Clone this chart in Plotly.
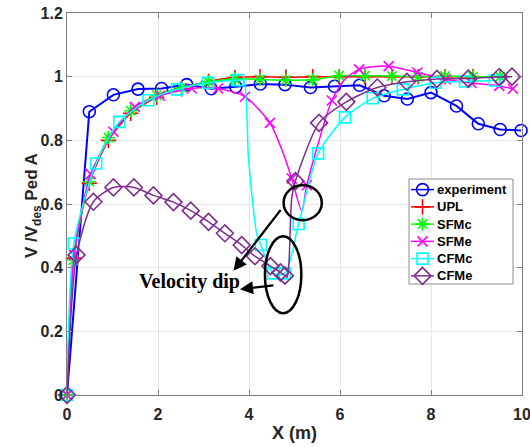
import plotly.graph_objects as go

# ---------------- data ----------------
exp_x = [0, 0.49, 1.02, 1.56, 2.08, 2.63, 3.17, 3.71, 4.25, 4.79, 5.35, 5.88, 6.43, 6.97, 7.48, 8.00, 8.56, 9.04, 9.52, 9.98]
exp_y = [0, 0.890, 0.943, 0.961, 0.963, 0.975, 0.962, 0.968, 0.977, 0.975, 0.966, 0.970, 0.973, 0.940, 0.930, 0.950, 0.908, 0.852, 0.834, 0.831]

upl_x = [0, 0.14, 0.49, 0.91, 1.40, 1.97, 2.52, 3.11, 3.69, 4.24, 4.81, 5.40, 5.98, 6.55, 7.14, 7.72, 8.31, 8.92, 9.52]
upl_y = [0, 0.430, 0.665, 0.800, 0.885, 0.935, 0.962, 0.985, 0.997, 1.000, 0.998, 1.000, 1.000, 1.000, 1.000, 1.000, 1.000, 1.000, 1.000]

sfmc_x = [0, 0.14, 0.49, 0.91, 1.40, 1.97, 2.52, 3.11, 3.69, 4.24, 4.81, 5.40, 5.98, 6.55, 7.14, 7.72, 8.31, 8.92, 9.52]
sfmc_y = [0, 0.424, 0.670, 0.809, 0.893, 0.942, 0.966, 0.984, 0.993, 0.991, 0.989, 0.990, 1.003, 1.003, 1.002, 1.000, 1.002, 1.000, 1.000]

sfme_x = [0, 0.16, 0.52, 1.02, 1.49, 2.04, 2.74, 3.32, 3.91, 4.46, 4.94, 5.27, 5.82, 6.42, 7.07, 7.70, 8.32, 8.89, 9.50, 9.80]
sfme_y = [0, 0.440, 0.694, 0.827, 0.905, 0.940, 0.963, 0.963, 0.937, 0.855, 0.680, 0.659, 0.925, 1.023, 1.033, 1.013, 0.992, 0.980, 0.971, 0.962]
sfme_curve_x = [4.75, 5.16, 5.50, 6.10]
sfme_curve_y = [0.760, 0.578, 0.780, 0.990]

cfmc_x = [0, 0.15, 0.64, 1.15, 1.79, 2.42, 3.10, 3.76, 4.26, 4.53, 4.79, 5.09, 5.52, 6.11, 6.72, 7.38, 8.10, 8.75, 9.40]
cfmc_y = [0, 0.476, 0.727, 0.858, 0.926, 0.960, 0.981, 0.989, 0.471, 0.382, 0.382, 0.537, 0.759, 0.872, 0.932, 0.960, 0.981, 0.985, 0.988]
cfmc_curve_x = [3.88, 3.99, 4.18]
cfmc_curve_y = [0.989, 0.740, 0.500]

cfme_x = [0, 0.21, 0.58, 1.02, 1.47, 1.90, 2.34, 2.72, 3.11, 3.47, 3.84, 4.13, 4.47, 4.69, 4.79, 5.02, 5.54, 6.14, 6.82, 7.47, 8.13, 8.82, 9.50, 9.78]
cfme_y = [0, 0.440, 0.607, 0.652, 0.652, 0.627, 0.606, 0.579, 0.544, 0.508, 0.471, 0.436, 0.405, 0.385, 0.375, 0.672, 0.855, 0.921, 0.966, 0.984, 0.993, 0.994, 0.999, 1.000]
cfme_curve_x = [4.84, 4.88, 4.94]
cfme_curve_y = [0.370, 0.420, 0.620]

series_names = ["experiment", "UPL", "SFMc", "SFMe", "CFMc", "CFMe"]
x_ticks = [0, 2, 4, 6, 8, 10]
y_ticks = [0, 0.2, 0.4, 0.6, 0.8, 1.0, 1.2]
y_tick_labels = ["0", "0.2", "0.4", "0.6", "0.8", "1", "1.2"]

# ---------------- styling ----------------
TXT = "#262626"
FONT = "Liberation Sans"
W, H = 530, 447
ML, MR, MT, MB = 67, 8, 13, 52
PW, PH = W - ML - MR, H - MT - MB


def merge(xm, ym, xe=None, ye=None):
    pts = list(zip(xm, ym))
    if xe:
        pts += list(zip(xe, ye))
    pts.sort(key=lambda p: p[0])
    return [p[0] for p in pts], [p[1] for p in pts]


styles = [
    (series_names[0], exp_x, exp_y, None, None, "#0000FF", "circle-open", 12, 2.0, "linear"),
    (series_names[1], upl_x, upl_y, None, None, "#FF0000", "cross-thin-open", 11, 1.5, "spline"),
    (series_names[2], sfmc_x, sfmc_y, None, None, "#00FF00", "asterisk-open", 11, 1.5, "spline"),
    (series_names[3], sfme_x, sfme_y, sfme_curve_x, sfme_curve_y, "#FF00FF", "x-thin-open", 10, 1.5, "spline"),
    (series_names[4], cfmc_x, cfmc_y, cfmc_curve_x, cfmc_curve_y, "#00FFFF", "square-open", 11, 1.5, "spline"),
    (series_names[5], cfme_x, cfme_y, cfme_curve_x, cfme_curve_y, "#7E2F8E", "diamond-open", 13, 1.5, "spline"),
]

fig = go.Figure()
for name, mx, my, ex, ey, col, sym, ms, lw, shp in styles:
    lx, ly = merge(mx, my, ex, ey)
    line_kw = dict(color=col, width=lw, shape=shp)
    if shp == "spline":
        line_kw["smoothing"] = 0.7
    fig.add_trace(go.Scatter(x=lx, y=ly, mode="lines", line=line_kw,
                             showlegend=False, hoverinfo="skip"))
    fig.add_trace(go.Scatter(x=mx, y=my, mode="markers", cliponaxis=False,
                             marker=dict(symbol=sym, size=ms, color=col,
                                         line=dict(color=col, width=1.6)),
                             showlegend=False, hoverinfo="skip"))

# ---------------- hand-built legend on an overlay axis (0..1 over plot area) ----
def px2x(px):
    return (px - ML) / PW


def py2y(py):
    return (H - MB - py) / PH


box_l, box_r, box_t, box_b = 409, 513, 179, 284
row0, row_step = 189.6, 17.25
fig.add_trace(go.Scatter(
    x=[px2x(box_l), px2x(box_r), px2x(box_r), px2x(box_l), px2x(box_l)],
    y=[py2y(box_t), py2y(box_t), py2y(box_b), py2y(box_b), py2y(box_t)],
    mode="lines", fill="toself", fillcolor="white",
    line=dict(color="#8C8C8C", width=1), xaxis="x2", yaxis="y2",
    showlegend=False, hoverinfo="skip", cliponaxis=False))
for i, (name, mx, my, ex, ey, col, sym, ms, lw, shp) in enumerate(styles):
    ry = py2y(row0 + i * row_step)
    fig.add_trace(go.Scatter(x=[px2x(411), px2x(434)], y=[ry, ry], mode="lines",
                             line=dict(color=col, width=1.5), xaxis="x2", yaxis="y2",
                             showlegend=False, hoverinfo="skip", cliponaxis=False))
    fig.add_trace(go.Scatter(x=[px2x(422.5)], y=[ry], mode="markers",
                             marker=dict(symbol=sym, size=ms, color=col,
                                         line=dict(color=col, width=1.6)),
                             xaxis="x2", yaxis="y2", showlegend=False,
                             hoverinfo="skip", cliponaxis=False))
    fig.add_annotation(x=px2x(435), y=ry, xref="x2", yref="y2", text="<b>%s</b>" % name,
                       xanchor="left", yanchor="middle", showarrow=False,
                       font=dict(family=FONT, size=13, color="black"))

# annotation ellipses
fig.add_shape(type="circle", xref="x", yref="y", x0=5.18 - 0.42, x1=5.18 + 0.42,
              y0=0.604 - 0.055, y1=0.604 + 0.055, line=dict(color="black", width=2.5))
fig.add_shape(type="circle", xref="x", yref="y", x0=4.75 - 0.40, x1=4.75 + 0.40,
              y0=0.378 - 0.121, y1=0.378 + 0.121, line=dict(color="black", width=2.5))

# arrows
fig.add_annotation(x=3.66, y=0.390, ax=4.72, ay=0.586, xref="x", yref="y",
                   axref="x", ayref="y", text="", showarrow=True, arrowhead=2,
                   arrowsize=1.2, arrowwidth=2.2, arrowcolor="black")
fig.add_annotation(x=3.80, y=0.332, ax=4.57, ay=0.345, xref="x", yref="y",
                   axref="x", ayref="y", text="", showarrow=True, arrowhead=2,
                   arrowsize=1.2, arrowwidth=2.2, arrowcolor="black")
fig.add_annotation(x=2.69, y=0.355, xref="x", yref="y", text="<b>Velocity dip</b>",
                   showarrow=False, font=dict(family="Liberation Serif", size=20, color="black"))

# y-axis title
fig.add_annotation(x=px2x(20), y=py2y(206), xref="paper", yref="paper", textangle=-90,
                   text="<b>V /V<sub>des</sub> Ped A</b>", showarrow=False,
                   font=dict(family=FONT, size=17, color=TXT))

axis_common = dict(showline=True, linecolor="#808080", linewidth=1, mirror="ticks",
                   ticks="inside", ticklen=5, tickcolor="#808080", automargin=False,
                   ticklabeloverflow="allow",
                   showgrid=True, gridcolor="#E6E6E6", gridwidth=1, zeroline=False,
                   tickfont=dict(family=FONT, size=16, color=TXT))

fig.update_layout(
    width=W, height=H,
    margin=dict(l=ML, r=MR, t=MT, b=MB, autoexpand=False),
    paper_bgcolor="white", plot_bgcolor="white",
    font=dict(family=FONT, color=TXT),
    showlegend=False,
    xaxis=dict(range=[0, 10], tickvals=x_ticks, ticktext=["<b>%d</b>" % v for v in x_ticks],
               ticklabelstandoff=5,
               title=dict(text="<b>X (m)</b>", font=dict(family=FONT, size=18, color=TXT), standoff=4),
               **axis_common),
    yaxis=dict(range=[0, 1.2], tickvals=y_ticks, ticktext=["<b>%s</b>" % t for t in y_tick_labels],
               **axis_common),
    xaxis2=dict(overlaying="x", range=[0, 1], visible=False, fixedrange=True),
    yaxis2=dict(overlaying="y", range=[0, 1], visible=False, fixedrange=True),
)

fig.write_html("out.html")
